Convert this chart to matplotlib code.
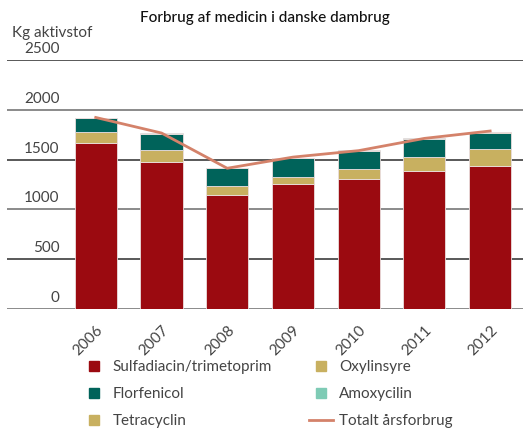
import matplotlib.pyplot as plt
from matplotlib.lines import Line2D
import numpy as np

plt.rcParams['font.family'] = ['Lato', 'DejaVu Sans']

years = ['2006', '2007', '2008', '2009', '2010', '2011', '2012']
sulfa = [1663, 1480, 1147, 1260, 1307, 1383, 1433]
tetra = [117, 120, 90, 70, 96, 147, 177]
florf = [137, 160, 176, 183, 184, 180, 157]
oxyl = [0, 0, 0, 0, 0, 0, 10]
amox = [5, 3, 0, 5, 5, 5, 3]
total = [1923, 1767, 1413, 1525, 1590, 1713, 1787]

c_red = '#9b0a10'
c_teal = '#00635a'
c_tan = '#c8b060'
c_amox = '#7ecbb5'
c_line = '#d4826a'
txt = '#444444'

fig = plt.figure(figsize=(5.23, 4.30), dpi=100)
ax = fig.add_axes([7/523, 1-309/430, 516/523, 249/430])

x = np.arange(len(years))
w = 0.64
layers = [(sulfa, c_red), (tetra, c_tan), (florf, c_teal), (oxyl, c_tan), (amox, c_amox)]
bottom = np.zeros(len(years))
for vals, col in layers:
    ax.bar(x, vals, w, bottom=bottom, color=col, edgecolor='#eadede', linewidth=0.6, zorder=3)
    bottom += np.array(vals)

ax.plot(x, total, color=c_line, lw=2, zorder=4)

ax.set_xlim(-1.35, 6.5)
ax.set_ylim(0, 2500)
for s in ax.spines.values():
    s.set_visible(False)
ax.set_yticks([])
for v in range(0, 2501, 500):
    ax.axhline(v, color='#3c3c3c' if v % 1000 else '#777777', lw=1.2, zorder=1)
    ax.text(-0.55, v + 40, str(v), ha='right', va='bottom', fontsize=11, color=txt)

ax.set_xticks(x)
ax.set_xticklabels(years, rotation=45, ha='right', rotation_mode='anchor', fontsize=11, color=txt)
ax.tick_params(axis='x', length=0, pad=10)

fig.text(265/523, 1-18/430, 'Forbrug af medicin i danske dambrug', ha='center', va='center',
         fontsize=11, fontweight='medium', color='#111111')
fig.text(12/523, 1-33/430, 'Kg aktivstof', ha='left', va='center', fontsize=11, color=txt)

handles = [
    Line2D([], [], ls='none', marker='s', ms=7, color=c_red),
    Line2D([], [], ls='none', marker='s', ms=7, color=c_teal),
    Line2D([], [], ls='none', marker='s', ms=7, color=c_tan),
    Line2D([], [], ls='none', marker='s', ms=7, color=c_tan),
    Line2D([], [], ls='none', marker='s', ms=7, color=c_amox),
    Line2D([], [], color=c_line, lw=2),
]
labels = ['Sulfadiacin/trimetoprim', 'Florfenicol', 'Tetracyclin',
          'Oxylinsyre', 'Amoxycilin', 'Totalt årsforbrug']
leg = fig.legend(handles, labels, ncol=2, loc='upper left', bbox_to_anchor=(82/523, 1-360/430),
                 frameon=False, fontsize=11, handlelength=1.6, handletextpad=0.4,
                 labelspacing=0.85, columnspacing=2.4, borderpad=0, borderaxespad=0)
for t in leg.get_texts():
    t.set_color(txt)

fig.savefig('out.png', dpi=100)
